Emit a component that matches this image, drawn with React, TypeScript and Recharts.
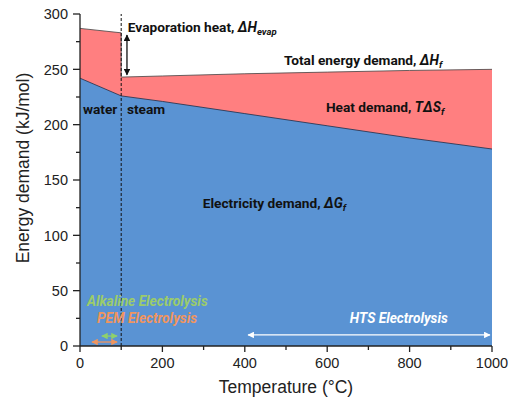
import React from 'react';
import { ComposedChart, Area, XAxis, YAxis, ReferenceLine, ReferenceDot } from 'recharts';

// energy demand of water splitting vs temperature
const temperature = [0, 100, 100, 200, 400, 600, 800, 1000];
const totalEnergy = [287, 283, 243, 244, 246, 247.5, 249, 250];
const electricity = [242, 226, 226, 221, 210, 199, 188, 178];

const xTicks = [0, 100, 200, 300, 400, 500, 600, 700, 800, 900, 1000];
const yTicks = [0, 25, 50, 75, 100, 125, 150, 175, 200, 225, 250, 275, 300];

const data = temperature.map((t, i) => ({ T: t, H: totalEnergy[i], G: electricity[i] }));

const AXIS = '#222';
const TICK_FONT = '"Liberation Sans", Arial, sans-serif';
const NOTE_FONT = 'Roboto, "Noto Sans", sans-serif';

const arrowColors: Record<string, string> = {
  black: '#111',
  green: '#8fd16a',
  orange: '#f0955e',
  white: '#ffffff',
};

const BottomTick = (props: any) => {
  const { x, y, payload } = props;
  const major = payload.value % 200 === 0;
  return (
    <g>
      <line x1={x} y1={y} x2={x} y2={y + (major ? 6 : 4)} stroke={AXIS} strokeWidth={1.3} />
      {major && (
        <text x={x} y={y + 22} textAnchor="middle" fontSize={14.5} fill="#222" fontFamily={TICK_FONT}>
          {payload.value}
        </text>
      )}
    </g>
  );
};

const TopTick = (props: any) => {
  const { x, y, payload } = props;
  const major = payload.value % 200 === 0;
  return <line x1={x} y1={y} x2={x} y2={y + (major ? 5 : 4)} stroke={AXIS} strokeWidth={1.3} />;
};

const LeftTick = (props: any) => {
  const { x, y, payload } = props;
  const major = payload.value % 50 === 0;
  return (
    <g>
      <line x1={x} y1={y} x2={x - (major ? 7 : 4)} y2={y} stroke={AXIS} strokeWidth={1.3} />
      {major && (
        <text x={x - 12} y={y} dy="0.36em" textAnchor="end" fontSize={14.5} fill="#222" fontFamily={TICK_FONT}>
          {payload.value}
        </text>
      )}
    </g>
  );
};

const RightTick = (props: any) => {
  const { x, y, payload } = props;
  const major = payload.value % 50 === 0;
  return <line x1={x} y1={y} x2={x - (major ? 5 : 4)} y2={y} stroke={AXIS} strokeWidth={1.3} />;
};

const note = (content: React.ReactNode, fill = '#111', italic = false) => (p: any) => (
  <text
    x={p.cx}
    y={p.cy}
    fontSize={13.7}
    fontWeight="bold"
    fontStyle={italic ? 'italic' : 'normal'}
    fill={fill}
    fontFamily={NOTE_FONT}
  >
    {content}
  </text>
);

const arrow = (color: string, width = 1.3) => (p: any) => (
  <line
    x1={p.x1}
    y1={p.y1}
    x2={p.x2}
    y2={p.y2}
    stroke={arrowColors[color]}
    strokeWidth={width}
    markerStart={`url(#arr-${color})`}
    markerEnd={`url(#arr-${color})`}
  />
);

const sub = (s: string) => (
  <tspan fontSize={9.5} dy={3} fontStyle="italic">
    {s}
  </tspan>
);

export default function App() {
  return (
    <div style={{ position: 'absolute', left: 0, top: 0, width: 513, height: 400 }}>
      <ComposedChart width={513} height={400} data={data} margin={{ top: 14, right: 21, left: 0, bottom: 0 }}>
        <defs>
          {Object.keys(arrowColors).map((k) => (
            <marker
              key={k}
              id={`arr-${k}`}
              viewBox="0 0 10 10"
              refX="9"
              refY="5"
              markerWidth="5"
              markerHeight="5"
              orient="auto-start-reverse"
            >
              <path d="M0,0 L10,5 L0,10 z" fill={arrowColors[k]} />
            </marker>
          ))}
        </defs>
        <XAxis
          dataKey="T"
          type="number"
          domain={[0, 1000]}
          ticks={xTicks}
          interval={0}
          height={54}
          tickSize={0}
          tickMargin={0}
          tickLine={false}
          tick={<BottomTick />}
          axisLine={{ stroke: AXIS, strokeWidth: 1.3 }}
          label={{
            value: 'Temperature (°C)',
            position: 'insideBottom',
            offset: 7,
            fontSize: 17.5,
            fill: '#222',
            fontFamily: TICK_FONT,
          }}
        />
        <XAxis
          xAxisId="top"
          orientation="top"
          dataKey="T"
          type="number"
          domain={[0, 1000]}
          ticks={xTicks}
          interval={0}
          height={0}
          tickSize={0}
          tickMargin={0}
          tickLine={false}
          tick={<TopTick />}
          axisLine={{ stroke: AXIS, strokeWidth: 1.3 }}
        />
        <YAxis
          type="number"
          domain={[0, 300]}
          ticks={yTicks}
          interval={0}
          width={80}
          tickSize={0}
          tickMargin={0}
          tickLine={false}
          tick={<LeftTick />}
          axisLine={{ stroke: AXIS, strokeWidth: 1.3 }}
          label={(p: any) => {
            const vb = p.viewBox;
            const cx = vb.x + 22.5;
            const cy = 168;
            return (
              <text
                x={cx}
                y={cy}
                transform={`rotate(-90 ${cx} ${cy})`}
                textAnchor="middle"
                dominantBaseline="central"
                fontSize={17.5}
                fill="#222"
                fontFamily={TICK_FONT}
              >
                Energy demand (kJ/mol)
              </text>
            );
          }}
        />
        <YAxis
          yAxisId="right"
          orientation="right"
          type="number"
          domain={[0, 300]}
          ticks={yTicks}
          interval={0}
          width={0}
          tickSize={0}
          tickMargin={0}
          tickLine={false}
          tick={<RightTick />}
          axisLine={{ stroke: AXIS, strokeWidth: 1.3 }}
        />
        <Area
          dataKey="H"
          type="linear"
          fill="#ff7f80"
          fillOpacity={1}
          stroke="#444"
          strokeWidth={0.8}
          isAnimationActive={false}
        />
        <Area
          dataKey="G"
          type="linear"
          fill="#5a93d3"
          fillOpacity={1}
          stroke="#1c2f4a"
          strokeWidth={0.8}
          isAnimationActive={false}
        />
        <ReferenceLine x={100} stroke="#111" strokeWidth={1} strokeDasharray="3 2" />
        <ReferenceLine segment={[{ x: 114, y: 281 }, { x: 114, y: 245 }]} shape={arrow('black')} />
        <ReferenceLine segment={[{ x: 53, y: 9 }, { x: 90, y: 9 }]} shape={arrow('green')} />
        <ReferenceLine segment={[{ x: 29, y: 3.6 }, { x: 90, y: 3.6 }]} shape={arrow('orange')} />
        <ReferenceLine segment={[{ x: 408, y: 10 }, { x: 995, y: 10 }]} shape={arrow('white')} />

        <ReferenceDot x={116} y={284} r={0} shape={note(<>Evaporation heat, <tspan fontStyle="italic">ΔH</tspan>{sub('evap')}</>)} />
        <ReferenceDot x={495} y={254} r={0} shape={note(<>Total energy demand, <tspan fontStyle="italic">ΔH</tspan>{sub('f')}</>)} />
        <ReferenceDot x={597} y={211} r={0} shape={note(<>Heat demand, <tspan fontStyle="italic">TΔS</tspan>{sub('f')}</>)} />
        <ReferenceDot x={7} y={210} r={0} shape={note('water')} />
        <ReferenceDot x={114} y={210} r={0} shape={note('steam')} />
        <ReferenceDot x={298} y={125} r={0} shape={note(<>Electricity demand, <tspan fontStyle="italic">ΔG</tspan>{sub('f')}</>)} />
        <ReferenceDot x={17} y={36} r={0} shape={note('Alkaline Electrolysis', '#9ccc6a', true)} />
        <ReferenceDot x={41} y={21} r={0} shape={note('PEM Electrolysis', '#f0955e', true)} />
        <ReferenceDot x={655} y={21} r={0} shape={note('HTS Electrolysis', '#ffffff', true)} />
      </ComposedChart>
    </div>
  );
}
